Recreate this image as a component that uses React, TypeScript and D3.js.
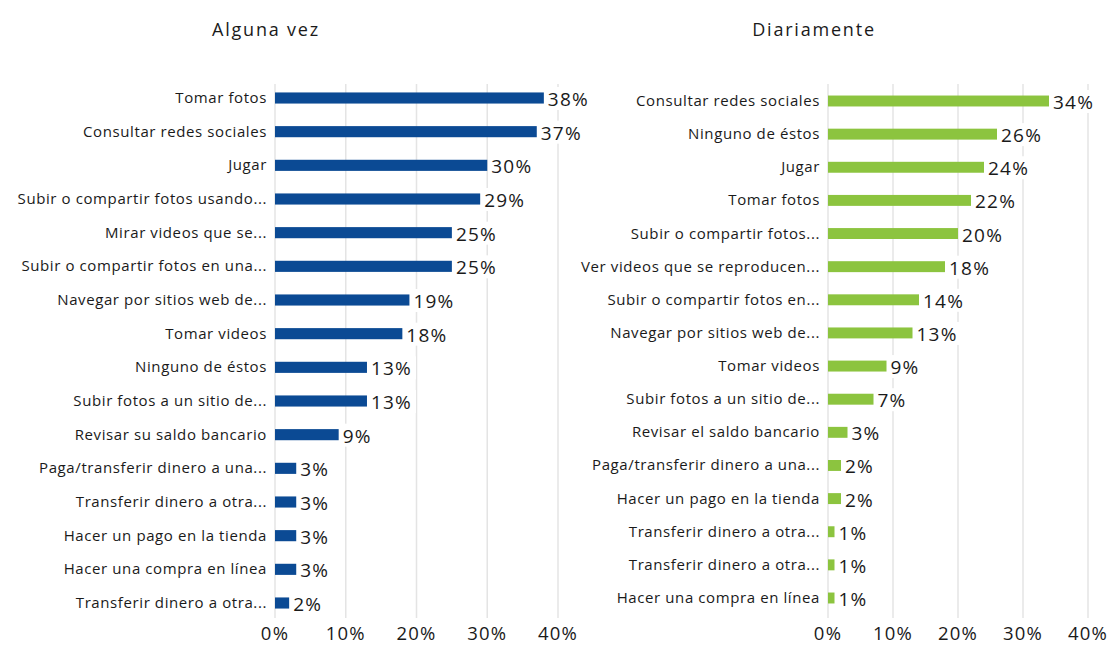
import React from 'react';
import { scaleLinear, scaleBand, range } from 'd3';

const leftCategories = [
  'Tomar fotos',
  'Consultar redes sociales',
  'Jugar',
  'Subir o compartir fotos usando...',
  'Mirar videos que se...',
  'Subir o compartir fotos en una...',
  'Navegar por sitios web de...',
  'Tomar videos',
  'Ninguno de éstos',
  'Subir fotos a un sitio de...',
  'Revisar su saldo bancario',
  'Paga/transferir dinero a una...',
  'Transferir dinero a otra...',
  'Hacer un pago en la tienda',
  'Hacer una compra en línea',
  'Transferir dinero a otra...',
];
const leftValues = [38, 37, 30, 29, 25, 25, 19, 18, 13, 13, 9, 3, 3, 3, 3, 2];

const rightCategories = [
  'Consultar redes sociales',
  'Ninguno de éstos',
  'Jugar',
  'Tomar fotos',
  'Subir o compartir fotos...',
  'Ver videos que se reproducen...',
  'Subir o compartir fotos en...',
  'Navegar por sitios web de...',
  'Tomar videos',
  'Subir fotos a un sitio de...',
  'Revisar el saldo bancario',
  'Paga/transferir dinero a una...',
  'Hacer un pago en la tienda',
  'Transferir dinero a otra...',
  'Transferir dinero a otra...',
  'Hacer una compra en línea',
];
const rightValues = [34, 26, 24, 22, 20, 18, 14, 13, 9, 7, 3, 2, 2, 1, 1, 1];

const ticks = [0, 10, 20, 30, 40];
const FONT = '"Open Sans", "Noto Sans", sans-serif';

type PanelProps = {
  title: string;
  titleX: number;
  categories: string[];
  values: number[];
  x0: number;
  x1: number;
  yFirst: number;
  yLast: number;
  color: string;
};

const Panel = ({ title, titleX, categories, values, x0, x1, yFirst, yLast, color }: PanelProps) => {
  const x = scaleLinear().domain([0, 40]).range([x0, x1]);
  const step = (yLast - yFirst) / (categories.length - 1);
  const y = scaleBand<number>()
    .domain(range(categories.length))
    .range([yFirst - step / 2, yLast + step / 2])
    .paddingInner(0.67)
    .paddingOuter(0.335);
  const bh = y.bandwidth();

  return (
    <g>
      <text x={titleX} y={36} textAnchor="middle" fontSize={18} letterSpacing={1.8} fill="#1a1a1a">
        {title}
      </text>
      {ticks.map(t => (
        <line key={t} x1={x(t)} x2={x(t)} y1={84} y2={618} stroke="#e4e4e4" strokeWidth={1.5} />
      ))}
      {ticks.map(t => (
        <text key={t} x={x(t)} y={640} textAnchor="middle" fontSize={18.5} letterSpacing={1.2} fill="#1a1a1a">
          {t}%
        </text>
      ))}
      {values.map((v, i) => {
        const cy = (y(i) as number) + bh / 2;
        const end = x(v);
        const label = `${v}%`;
        const lw = label.length * 14;
        return (
          <g key={i}>
            <text x={x0 - 8} y={cy + 5} textAnchor="end" fontSize={15} letterSpacing={0.6} fill="#1a1a1a">
              {categories[i]}
            </text>
            <rect x={x0} y={y(i)} width={end - x0} height={bh} fill={color} />
            <rect x={end + 3} y={cy - 11} width={lw + 4} height={23} fill="#ffffff" />
            <text x={end + 4} y={cy + 8} fontSize={19} letterSpacing={1.2} fill="#1a1a1a">
              {label}
            </text>
          </g>
        );
      })}
    </g>
  );
};

export default function App() {
  return (
    <svg
      width={1119}
      height={647}
      style={{ position: 'absolute', left: 0, top: 0, background: '#fff', fontFamily: FONT }}
    >
      <Panel
        title="Alguna vez"
        titleX={266}
        categories={leftCategories}
        values={leftValues}
        x0={275}
        x1={558}
        yFirst={98}
        yLast={603}
        color="#0b4a94"
      />
      <Panel
        title="Diariamente"
        titleX={814}
        categories={rightCategories}
        values={rightValues}
        x0={828}
        x1={1088}
        yFirst={101}
        yLast={598}
        color="#8cc43f"
      />
    </svg>
  );
}
